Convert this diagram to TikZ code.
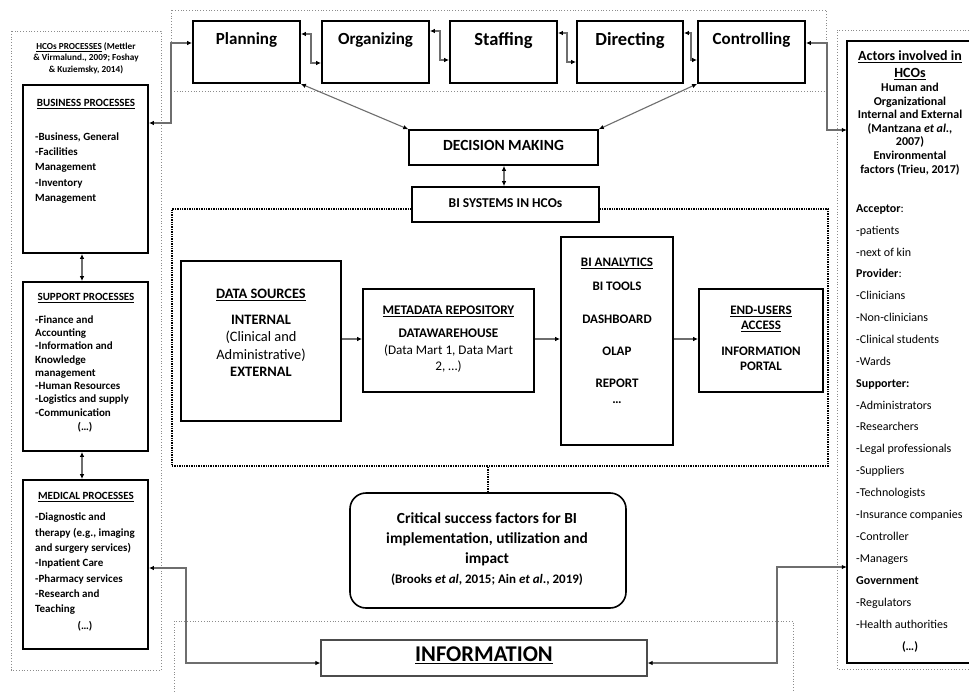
\documentclass[tikz,border=0pt]{standalone}
\usepackage{fontspec}
\setmainfont{Carlito}
\usetikzlibrary{arrows.meta,calc}
\definecolor{conngray}{HTML}{6E6E6E}
\definecolor{framegray}{HTML}{8C8C8C}
\newcommand{\myfs}[1]{\fontsize{#1}{#1}\selectfont}
\begin{document}
\begin{tikzpicture}[x=1pt,y=-1pt,
  box/.style={draw=black,line width=1.8pt,fill=white,inner sep=0pt},
  frame/.style={draw=framegray,line width=0.8pt,dotted},
  conn/.style={draw=conngray,line width=1.1pt},
  both/.style={conn,{Latex[length=5pt,width=4.5pt,color=black]}-{Latex[length=5pt,width=4.5pt,color=black]}},
  one/.style={conn,-{Latex[length=5pt,width=4.5pt,color=black]}},
  txt/.style={inner sep=0pt,anchor=mid,align=center,font=\bfseries\myfs{#1}},
  ntxt/.style={inner sep=0pt,anchor=mid,align=center,font=\mdseries\myfs{#1}},
  ltxt/.style={inner sep=0pt,anchor=mid west,font=\bfseries\myfs{#1}},
  rtxt/.style={inner sep=0pt,anchor=mid west,font=\mdseries\myfs{#1}},
]
\useasboundingbox (0,0) rectangle (970,693);
\fill[white] (0,0) rectangle (970,693);

% frames
\draw[frame] (171,10) rectangle (826,91);
\draw[frame] (11,31) rectangle (161,670);
\draw[frame] (969,30) -- (837,30) -- (837,669) -- (969,669);
\draw[frame] (174,692) -- (174,621) -- (793,621) -- (793,692);
\node[draw=black,line width=1.4pt,densely dotted,minimum width=656pt,minimum height=257pt,inner sep=0pt] (bibox) at (500,337.5) {};

% management functions
\node[box,minimum width=107pt,minimum height=62pt] (plan) at (246.5,52) {};
\node[txt=17] (plan-t) at (246.5,42) {Planning};
\node[box,minimum width=107pt,minimum height=62pt] (org) at (375.5,52) {};
\node[txt=17] (org-t) at (375.5,42) {Organizing};
\node[box,minimum width=107pt,minimum height=62pt] (staff) at (503.5,52) {};
\node[txt=18.5] (staff-t) at (503.5,43) {Staffing};
\node[box,minimum width=106pt,minimum height=62pt] (dir) at (630,52) {};
\node[txt=18.5] (dir-t) at (630,43) {Directing};
\node[box,minimum width=107pt,minimum height=62pt] (ctrl) at (751.5,52) {};
\node[txt=17] (ctrl-t) at (751.5,42) {Controlling};

% decision making / BI systems
\node[box,line width=1.6pt,minimum width=189pt,minimum height=35pt] (dm) at (503.5,147.5) {};
\node[txt=15.5] (dm-t) at (503.5,148) {DECISION MAKING};
\node[box,line width=1.6pt,minimum width=187pt,minimum height=35pt] (bis) at (505.5,204.5) {};
\node[txt=13.5] (bis-t) at (505.5,205) {BI SYSTEMS IN HCOs};

% BI pipeline
\node[box,minimum width=160pt,minimum height=160pt] (ds) at (261,341) {};
\node[txt=14.4] (ds-1) at (261,296) {\underline{DATA SOURCES}};
\node[txt=14.4] (ds-2) at (261,322) {INTERNAL};
\node[ntxt=14.4] (ds-3) at (261,339) {(Clinical and};
\node[ntxt=14.4] (ds-4) at (261,357) {Administrative)};
\node[txt=14.4] (ds-5) at (261,374) {EXTERNAL};

\node[box,minimum width=171pt,minimum height=103pt] (md) at (448.5,340.5) {};
\node[txt=13.2] (md-1) at (448.5,312) {\underline{METADATA REPOSITORY}};
\node[txt=13.2] (md-2) at (448.5,335) {DATAWAREHOUSE};
\node[ntxt=13.2] (md-3) at (448.5,352) {(Data Mart 1, Data Mart};
\node[ntxt=13.2] (md-4) at (448.5,368) {2, …)};

\node[box,minimum width=112pt,minimum height=208pt] (bia) at (617,341) {};
\node[txt=13] (bia-1) at (617,264) {\underline{BI ANALYTICS}};
\node[txt=13] (bia-2) at (617,288) {BI TOOLS};
\node[txt=13] (bia-3) at (617,321) {DASHBOARD};
\node[txt=13] (bia-4) at (617,353) {OLAP};
\node[txt=13] (bia-5) at (617,385) {REPORT};
\node[txt=13] (bia-6) at (617,401) {…};

\node[box,minimum width=124pt,minimum height=103pt] (eu) at (761,340.5) {};
\node[txt=13] (eu-1) at (761,312) {\underline{END-USERS}};
\node[txt=13] (eu-2) at (761,327) {\underline{ACCESS}};
\node[txt=13] (eu-3) at (761,353) {INFORMATION};
\node[txt=13] (eu-4) at (761,368) {PORTAL};

\draw[one] (ds.east |- 0,339) -- (md.west |- 0,339);
\draw[one] (md.east |- 0,339) -- (bia.west |- 0,339);
\draw[one] (bia.east |- 0,339) -- (eu.west |- 0,339);

% critical success factors
\node[draw=black,line width=1.6pt,rounded corners=16pt,minimum width=276pt,minimum height=115pt,inner sep=0pt] (csf) at (488,550.5) {};
\node[txt=15.4] (csf-1) at (487,521) {Critical success factors for BI};
\node[txt=15.4] (csf-2) at (487,541) {implementation, utilization and};
\node[txt=15.4] (csf-3) at (487,561) {impact};
\node[txt=13] (csf-4) at (487,581) {(Brooks \textit{et al}, 2015; Ain \textit{et al}., 2019)};
\draw[draw=black,line width=1.4pt,densely dotted] (bibox.south -| csf.north) -- (csf.north);

% information
\node[draw=black!70,line width=1.2pt,minimum width=326pt,minimum height=36pt,inner sep=0pt] (info) at (484,658) {};
\node[txt=22.5] (info-t) at (484,659) {\underline{INFORMATION}};

% HCO processes
\node[txt=9.2] (hco-1) at (86,47) {\underline{HCOs PROCESSES} (Mettler};
\node[txt=9.2] (hco-2) at (86,58) {\& Virmalund., 2009; Foshay};
\node[txt=9.2] (hco-3) at (86,70) {\& Kuziemsky, 2014)};

\node[box,minimum width=125pt,minimum height=168pt] (bus) at (85.5,169) {};
\node[txt=11] (bus-t) at (86,104) {\underline{BUSINESS PROCESSES}};
\foreach \yy/\lbl [count=\i] in {138/{-Business, General},153/-Facilities,168/Management,184/-Inventory,199/Management}
  \node[ltxt=11] (bus-\i) at (35,\yy) {\lbl};

\node[box,minimum width=125pt,minimum height=169pt] (sup) at (85.5,366.5) {};
\node[txt=11] (sup-t) at (86,298) {\underline{SUPPORT PROCESSES}};
\foreach \yy/\lbl [count=\i] in {321/-Finance and,334/Accounting,347/-Information and,361/Knowledge,374/management,387/-Human Resources,400/-Logistics and supply,414/-Communication}
  \node[ltxt=11] (sup-\i) at (35,\yy) {\lbl};
\node[txt=11] (sup-e) at (85,428) {(…)};

\node[box,minimum width=125pt,minimum height=169pt] (med) at (85.5,564.5) {};
\node[txt=11] (med-t) at (86,497) {\underline{MEDICAL PROCESSES}};
\foreach \yy/\lbl [count=\i] in {518/-Diagnostic and,534/{therapy (e.g., imaging},549/and surgery services),564/-Inpatient Care,580/-Pharmacy services,595/-Research and,610/Teaching}
  \node[ltxt=11] (med-\i) at (35,\yy) {\lbl};
\node[txt=11] (med-e) at (85,627) {(…)};

\draw[both] ($(bus.south)+(-3.5,0)$) -- ($(sup.north)+(-3.5,0)$);
\draw[both] ($(sup.south)+(-3.5,0)$) -- ($(med.north)+(-3.5,0)$);

% actors
\node[minimum width=122pt,minimum height=622pt,inner sep=0pt] (actors) at (908,352) {};
\draw[line width=1.8pt] (actors.north east) -- (actors.north west) -- (actors.south west) -- (actors.south east);
\node[txt=14] (act-h1) at (910,58) {\underline{Actors involved in}};
\node[txt=14] (act-h2) at (910,75) {\underline{HCOs}};
\foreach \yy/\lbl [count=\i] in {89/Human and,103/Organizational,116/Internal and External,130/{(Mantzana \textit{et al}.,},143/2007),157/Environmental,171/{factors (Trieu, 2017)}}
  \node[txt=12] (act-s\i) at (910,\yy) {\lbl};
\foreach \yy/\lbl [count=\i] in {210/{\textbf{Acceptor}:},232/-patients,254/-next of kin,275/{\textbf{Provider}:},297/-Clinicians,319/-Non-clinicians,341/-Clinical students,363/-Wards,385/{\textbf{Supporter:}},407/-Administrators,428/-Researchers,450/-Legal professionals,472/-Suppliers,494/-Technologists,516/-Insurance companies,538/-Controller,560/-Managers,582/{\textbf{Government}},604/-Regulators,626/-Health authorities}
  \node[rtxt=12] (act-\i) at (856,\yy) {\lbl};
\node[txt=12] (act-e) at (910,648) {(…)};

% connectors
\draw[both] (bus.east |- 0,123) -- (171,123) |- (plan.west |- 0,43);
\draw[both] (plan.east |- 0,34) -- (311,34) -- (311,63) -- (org.west |- 0,63);
\draw[both] (org.east |- 0,31) -- (440,31) -- (440,60) -- (staff.west |- 0,60);
\draw[both] (staff.east |- 0,33) -- (567,33) -- (567,62) -- (dir.west |- 0,62);
\draw[both] (dir.east |- 0,33) -- (691,33) -- (691,60) -- (ctrl.west |- 0,60);
\draw[both] (ctrl.east |- 0,43) -- (827,43) -- (827,130) -- (actors.west |- 0,130);
\draw[both] (plan.south east) -- (dm.north west);
\draw[both] (ctrl.south west) -- (dm.north east);
\draw[both] (dm.south -| 504,0) -- (bis.north -| 504,0);
\draw[both] (med.east |- 0,568) -- (186,568) |- (info.west |- 0,663);
\draw[both] (info.east |- 0,663) -- (777,663) |- (actors.west |- 0,567);
\end{tikzpicture}
\end{document}
